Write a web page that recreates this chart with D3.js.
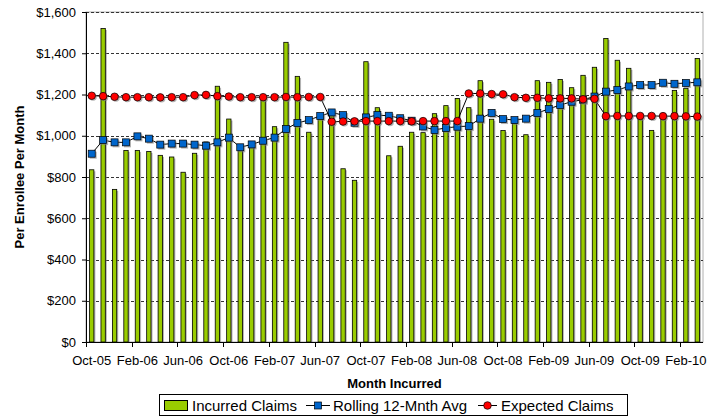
<!DOCTYPE html>
<html>
<head>
<meta charset="utf-8">
<script src="https://cdn.jsdelivr.net/npm/d3@7"></script>
<style>
  body { margin: 0; background: #fff; }
  text { font-family: "Liberation Sans", Arial, sans-serif; fill: #000; }
</style>
</head>
<body>
<div id="chart"></div>
<script>
// month labels, Oct-05 .. Mar-10
const months = [
    'Oct-05', 'Nov-05', 'Dec-05', 'Jan-06', 'Feb-06', 'Mar-06', 'Apr-06', 'May-06', 'Jun-06',
    'Jul-06', 'Aug-06', 'Sep-06', 'Oct-06', 'Nov-06', 'Dec-06', 'Jan-07', 'Feb-07', 'Mar-07',
    'Apr-07', 'May-07', 'Jun-07', 'Jul-07', 'Aug-07', 'Sep-07', 'Oct-07', 'Nov-07', 'Dec-07',
    'Jan-08', 'Feb-08', 'Mar-08', 'Apr-08', 'May-08', 'Jun-08', 'Jul-08', 'Aug-08', 'Sep-08',
    'Oct-08', 'Nov-08', 'Dec-08', 'Jan-09', 'Feb-09', 'Mar-09', 'Apr-09', 'May-09', 'Jun-09',
    'Jul-09', 'Aug-09', 'Sep-09', 'Oct-09', 'Nov-09', 'Dec-09', 'Jan-10', 'Feb-10', 'Mar-10'
];

const incurred = [
    835, 1520, 740, 929, 929, 924, 905, 897, 823,
    915, 970, 1240, 1081, 930, 950, 1185, 1044, 1453,
    1288, 1017, 1095, 1100, 840, 784, 1359, 1136, 903,
    949, 1017, 1015, 1107, 1146, 1181, 1136, 1267, 1080,
    1025, 1060, 1005, 1267, 1259, 1273, 1233, 1293, 1332,
    1472, 1366, 1327, 1085, 1026, 1090, 1220, 1230, 1375
];

const rolling = [
    913, 979, 968, 968, 997, 986, 957, 962, 962,
    957, 952, 968, 991, 944, 958, 976, 991, 1033,
    1062, 1076, 1096, 1113, 1100, 1063, 1089, 1100, 1097,
    1085, 1073, 1045, 1028, 1038, 1044, 1047, 1083, 1111,
    1081, 1076, 1083, 1110, 1130, 1149, 1165, 1175, 1190,
    1214, 1222, 1239, 1246, 1246, 1257, 1252, 1256, 1259
];

const expected = [
    1194, 1192, 1189, 1187, 1187, 1187, 1186, 1187, 1187,
    1197, 1198, 1192, 1190, 1187, 1187, 1187, 1187, 1188,
    1187, 1188, 1188, 1068, 1069, 1070, 1071, 1071, 1071,
    1071, 1070, 1071, 1071, 1071, 1071, 1205, 1205, 1202,
    1201, 1187, 1184, 1184, 1181, 1181, 1181, 1177, 1179,
    1095, 1096, 1096, 1096, 1096, 1095, 1095, 1094, 1093
];

const yTicks = [0, 200, 400, 600, 800, 1000, 1200, 1400, 1600];

const W = 714, H = 417;
const margin = {top: 12, right: 11, bottom: 75, left: 86};
const plotW = W - margin.left - margin.right;
const plotH = H - margin.top - margin.bottom;

const svg = d3.select('#chart')
    .append('svg')
    .attr('width', W)
    .attr('height', H);

const chart = svg.append('g')
    .attr('transform', `translate(${margin.left}, ${margin.top})`);

const x = d3.scaleBand()
    .domain(months)
    .range([0, plotW])
    .padding(0);

const y = d3.scaleLinear()
    .domain([0, 1600])
    .range([plotH, 0]);

const cx = d => x(d) + x.bandwidth() / 2;
const barW = x.bandwidth() * 0.38;

// plot border (light grey) and dashed gridlines
chart.append('rect')
    .attr('x', 0).attr('y', 0)
    .attr('width', plotW).attr('height', plotH)
    .attr('fill', 'none')
    .attr('stroke', '#b0b0b0');

chart.selectAll('.grid')
    .data(yTicks.filter(t => t > 0))
    .enter()
    .append('line')
    .attr('x1', 0).attr('x2', plotW)
    .attr('y1', d => Math.round(y(d)) + 0.5)
    .attr('y2', d => Math.round(y(d)) + 0.5)
    .attr('stroke', '#333')
    .attr('stroke-dasharray', '3,2');

// bars (with soft shadow)
const bars = chart.append('g');
bars.selectAll('.shadow')
    .data(incurred)
    .enter()
    .append('rect')
    .attr('x', (d, i) => cx(months[i]) - barW / 2 + 1.5)
    .attr('y', d => y(d) + 1.5)
    .attr('width', barW)
    .attr('height', d => plotH - y(d) - 1.5)
    .attr('fill', '#7f7f7f')
    .attr('opacity', 0.6);

bars.selectAll('.bar')
    .data(incurred)
    .enter()
    .append('rect')
    .attr('class', 'bar')
    .attr('x', (d, i) => cx(months[i]) - barW / 2)
    .attr('y', d => y(d))
    .attr('width', barW)
    .attr('height', d => plotH - y(d))
    .attr('fill', '#99cc00')
    .attr('stroke', '#000')
    .attr('stroke-width', 0.8);

// line helper
const line = d3.line()
    .x((d, i) => cx(months[i]))
    .y(d => y(d));

// rolling average
chart.append('path')
    .datum(rolling)
    .attr('d', line)
    .attr('fill', 'none')
    .attr('stroke', '#000')
    .attr('stroke-width', 1);

const sq = 7;
chart.selectAll('.sqShadow')
    .data(rolling)
    .enter()
    .append('rect')
    .attr('x', (d, i) => cx(months[i]) - sq / 2 + 1.5)
    .attr('y', d => y(d) - sq / 2 + 1.5)
    .attr('width', sq).attr('height', sq)
    .attr('fill', '#808080')
    .attr('opacity', 0.6);

chart.selectAll('.sq')
    .data(rolling)
    .enter()
    .append('rect')
    .attr('x', (d, i) => cx(months[i]) - sq / 2)
    .attr('y', d => y(d) - sq / 2)
    .attr('width', sq).attr('height', sq)
    .attr('fill', '#0066cc')
    .attr('stroke', '#000')
    .attr('stroke-width', 0.7);

// expected claims
chart.append('path')
    .datum(expected)
    .attr('d', line)
    .attr('fill', 'none')
    .attr('stroke', '#000')
    .attr('stroke-width', 1);

chart.selectAll('.dotShadow')
    .data(expected)
    .enter()
    .append('circle')
    .attr('cx', (d, i) => cx(months[i]) + 1.3)
    .attr('cy', d => y(d) + 1.3)
    .attr('r', 3.8)
    .attr('fill', '#808080')
    .attr('opacity', 0.6);

chart.selectAll('.dot')
    .data(expected)
    .enter()
    .append('circle')
    .attr('cx', (d, i) => cx(months[i]))
    .attr('cy', d => y(d))
    .attr('r', 3.8)
    .attr('fill', '#ff0000')
    .attr('stroke', '#000')
    .attr('stroke-width', 0.7);

// y axis
const yAxis = chart.append('g')
    .call(d3.axisLeft(y)
        .tickValues(yTicks)
        .tickSize(4)
        .tickPadding(6)
        .tickFormat(d => '$' + d3.format(',')(d)));
yAxis.select('.domain').attr('stroke', '#000');
yAxis.selectAll('text')
    .style('font-size', '13px')
    .style('font-family', '"Liberation Sans", Arial, sans-serif');

// x axis: ticks at category boundaries every 4 months, labels at category centres
const xAxis = chart.append('g')
    .attr('transform', `translate(0, ${plotH})`);
xAxis.append('line')
    .attr('x1', 0).attr('x2', plotW)
    .attr('y1', 0.5).attr('y2', 0.5)
    .attr('stroke', '#000');

const labelled = months.filter((m, i) => i % 4 === 0);
xAxis.selectAll('.xtick')
    .data(labelled)
    .enter()
    .append('line')
    .attr('x1', d => Math.round(x(d)) + 0.5)
    .attr('x2', d => Math.round(x(d)) + 0.5)
    .attr('y1', 0).attr('y2', 5)
    .attr('stroke', '#000');

xAxis.selectAll('.xlabel')
    .data(labelled)
    .enter()
    .append('text')
    .attr('x', d => cx(d))
    .attr('y', 23)
    .attr('text-anchor', 'middle')
    .style('font-size', '13px')
    .text(d => d);

// axis titles
svg.append('text')
    .attr('x', margin.left + plotW / 2)
    .attr('y', 388)
    .attr('text-anchor', 'middle')
    .style('font-size', '13px')
    .style('font-weight', 'bold')
    .text('Month Incurred');

svg.append('text')
    .attr('transform', `translate(24, ${margin.top + plotH / 2}) rotate(-90)`)
    .attr('text-anchor', 'middle')
    .style('font-size', '13px')
    .style('font-weight', 'bold')
    .text('Per Enrollee Per Month');

// legend
const legend = svg.append('g');
legend.append('rect')
    .attr('x', 159.5).attr('y', 394.5)
    .attr('width', 468).attr('height', 21)
    .attr('fill', '#fff')
    .attr('stroke', '#000');

legend.append('rect')
    .attr('x', 164.5).attr('y', 400.5)
    .attr('width', 23).attr('height', 10)
    .attr('fill', '#99cc00')
    .attr('stroke', '#000');
legend.append('text')
    .attr('x', 192).attr('y', 411)
    .style('font-size', '15px')
    .text('Incurred Claims');

legend.append('line')
    .attr('x1', 306).attr('x2', 330)
    .attr('y1', 405.5).attr('y2', 405.5)
    .attr('stroke', '#000');
legend.append('rect')
    .attr('x', 314.5).attr('y', 402)
    .attr('width', 7).attr('height', 7)
    .attr('fill', '#0066cc')
    .attr('stroke', '#000')
    .attr('stroke-width', 0.7);
legend.append('text')
    .attr('x', 333).attr('y', 411)
    .style('font-size', '15px')
    .text('Rolling 12-Mnth Avg');

legend.append('line')
    .attr('x1', 478).attr('x2', 497)
    .attr('y1', 405.5).attr('y2', 405.5)
    .attr('stroke', '#000');
legend.append('circle')
    .attr('cx', 487.5).attr('cy', 405.5)
    .attr('r', 3.8)
    .attr('fill', '#ff0000')
    .attr('stroke', '#000')
    .attr('stroke-width', 0.7);
legend.append('text')
    .attr('x', 501).attr('y', 411)
    .style('font-size', '15px')
    .text('Expected Claims');
</script>
</body>
</html>
